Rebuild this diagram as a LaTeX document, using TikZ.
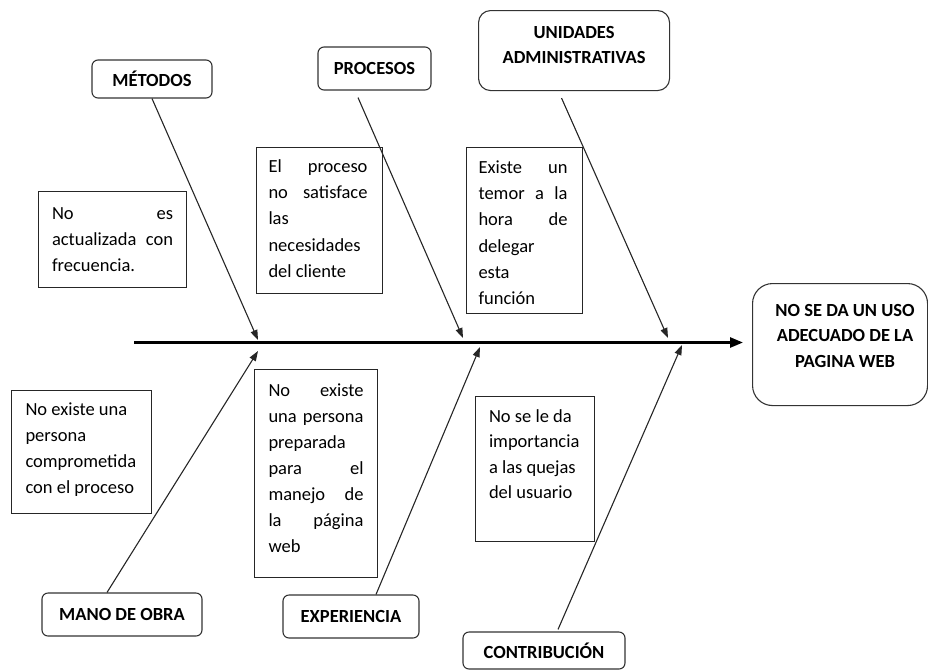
\documentclass[tikz,border=0pt]{standalone}
\usepackage{fontspec}
\setmainfont{Carlito}
\usetikzlibrary{arrows.meta,calc}
\newcommand\bx[4]{\parbox[t][#2][t]{#1}{\fontsize{18.5}{#3}\selectfont #4}}
\newcommand\jline[1]{\hbox to\linewidth{#1}}
\newcommand\lline[1]{\hbox to\linewidth{#1\hfil}}
\newcommand\ctrline[1]{\hbox to\linewidth{\hskip 0pt plus 1fil\relax #1\hskip 0pt plus 1fil\relax}}
\newcommand\sline[1]{\hbox to\linewidth{\hskip 10pt plus 1fil\relax #1\hskip 0pt plus 1fil\relax}}
\tikzset{
  tbox/.style={draw=black!85, line width=1pt, rectangle, anchor=north west, inner xsep=#1},
  rbox/.style={draw=black!80, line width=1.1pt, rounded corners=6pt, inner sep=0pt, font=\fontsize{18.5}{22}\selectfont\bfseries},
  conn/.style={draw=black!85, line width=1.1pt, -{Triangle[length=10pt,width=7pt]}},
  spine/.style={draw=black, line width=2.6pt, -{Triangle[length=13pt,width=10pt]}}
}
\begin{document}
\begin{tikzpicture}[x=1pt,y=-1pt]
\useasboundingbox (0,0) rectangle (928,670);
\clip (0,0) rectangle (928,670);

% category boxes
\node[rbox, minimum width=120pt, minimum height=38pt] (metodos) at (152,79) {MÉTODOS};
\node[rbox, minimum width=113pt, minimum height=43pt] (procesos) at (374.5,68.5) {PROCESOS};
\node[rbox, rounded corners=12pt, anchor=north west, inner xsep=5pt, inner ysep=16.3pt, font=\bfseries] (unidades) at (478,10)
  {\bx{181pt}{47.4pt}{25pt}{\bfseries\ctrline{UNIDADES}\ctrline{ADMINISTRATIVAS}}};
\node[rbox, minimum width=160pt, minimum height=43pt] (mano) at (122,614.5) {MANO DE OBRA};
\node[rbox, minimum width=136pt, minimum height=43pt] (experiencia) at (351,616.5) {EXPERIENCIA};
\node[rbox, minimum width=162pt, minimum height=37pt] (contribucion) at (544,650.5) {CONTRIBUCIÓN};

% effect box
\node[rbox, rounded corners=20pt, anchor=north west, inner xsep=5pt, inner ysep=20.8pt] (effect) at (752,283)
  {\bx{165pt}{80.4pt}{25.5pt}{\bfseries\sline{NO SE DA UN USO}\sline{ADECUADO DE LA}\sline{PAGINA WEB}}};

% cause boxes
\node[tbox=13.5pt, inner ysep=16pt] (ca) at (38,191)
  {\bx{121pt}{64pt}{26pt}{\jline{No\hfill es}\jline{actualizada\hfill con}\lline{frecuencia.}}};
\node[tbox=12pt, inner ysep=11.8pt] (cb) at (256,147)
  {\bx{99pt}{122pt}{26.3pt}{\jline{El\hfill proceso}\jline{no\hfill satisface}\lline{las}\lline{necesidades}\lline{del cliente}}\kern3pt};
\node[tbox=12pt, inner ysep=13pt] (cc) at (466,147)
  {\bx{89pt}{140pt}{26.3pt}{\jline{Existe\hfill un}\jline{temor\hfill a\hfill la}\jline{hora\hfill de}\lline{delegar}\lline{esta}\lline{función}}\kern3pt};
\node[tbox=14pt, inner ysep=12pt] (ce) at (11,390)
  {\bx{112pt}{99pt}{26pt}{\lline{No existe una}\lline{persona}\lline{comprometida}\lline{con el proceso}}};
\node[tbox=14pt, inner ysep=14.5pt] (cd) at (254,369)
  {\bx{95pt}{179pt}{26pt}{\jline{No\hfill existe}\jline{una\hfill persona}\lline{preparada}\jline{para\hfill el}\jline{manejo\hfill de}\jline{la\hfill página}\lline{web}}};
\node[tbox=13.5pt, inner ysep=12.8pt] (cf) at (475,396)
  {\bx{92pt}{119pt}{25.5pt}{\lline{No se le da}\lline{importancia}\lline{a las quejas}\lline{del usuario}}};

% spine
\coordinate (s0) at (134,342.5);
\coordinate (s1) at ([xshift=-9pt]effect.west);
\draw[spine] (s0) -- (s1 |- s0);

% arrow end points on the spine
\coordinate (t1) at (258,340);
\coordinate (t2) at (463,338);
\coordinate (t3) at (668,338);
\coordinate (b1) at (258,351);
\coordinate (b2) at (480,347);
\coordinate (b3) at (682,345);

\draw[conn] (metodos.south) -- (t1);
\draw[conn] ([xshift=-16.5pt,yshift=-7pt]procesos.south) -- (t2);
\draw[conn] ([xshift=-12.5pt,yshift=-7pt]unidades.south) -- (t3);
\draw[conn] ([xshift=-15pt]mano.north) -- (b1);
\draw[conn] ([xshift=25pt]experiencia.north) -- (b2);
\draw[conn] ([xshift=14pt,yshift=2pt]contribucion.north) -- (b3);
\end{tikzpicture}
\end{document}
